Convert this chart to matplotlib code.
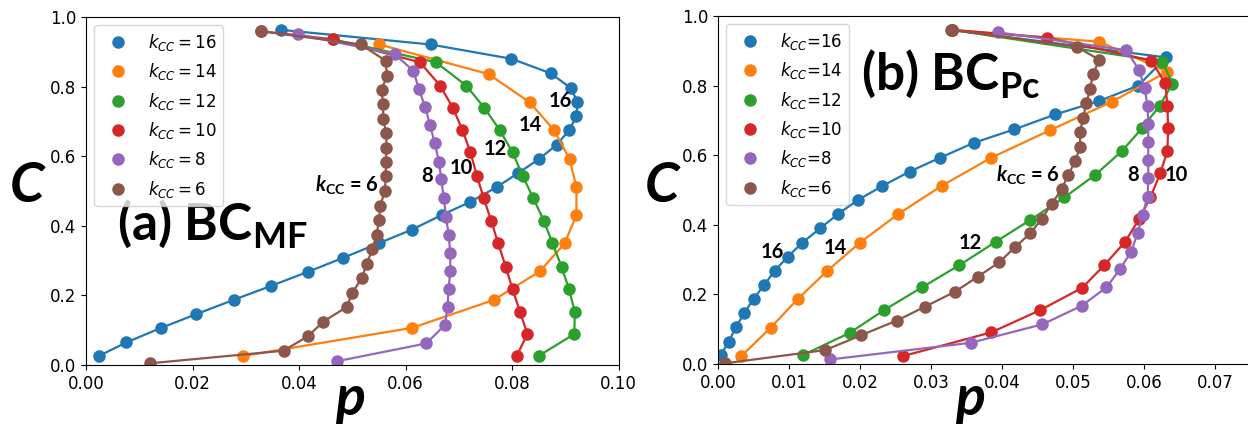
import matplotlib.pyplot as plt
from matplotlib.lines import Line2D

plt.rcParams['mathtext.rm'] = 'Lato:bold'
plt.rcParams['mathtext.it'] = 'Lato:italic:bold'
plt.rcParams['mathtext.bf'] = 'Lato:bold'

kcc = [16, 14, 12, 10, 8, 6]
colors = ['tab:blue', 'tab:orange', 'tab:green', 'tab:red', 'tab:purple', 'tab:brown']

# (a) mean-field betweenness
p_mf = [
    [0.0024, 0.0076, 0.0140, 0.0207, 0.0277, 0.0347, 0.0417, 0.0483, 0.0550, 0.0612, 0.0668, 0.0722,
     0.0771, 0.0812, 0.0851, 0.0884, 0.0907, 0.0921, 0.0923, 0.0911, 0.0873, 0.0799, 0.0647, 0.0367],
    [0.0295, 0.0613, 0.0766, 0.0853, 0.0899, 0.0921, 0.0921, 0.0908, 0.0879, 0.0833, 0.0756, 0.0551],
    [0.0851, 0.0917, 0.0918, 0.0907, 0.0893, 0.0876, 0.0860, 0.0840, 0.0820, 0.0801, 0.0777, 0.0748,
     0.0714, 0.0657, 0.0463],
    [0.0809, 0.0829, 0.0815, 0.0801, 0.0788, 0.0774, 0.0761, 0.0747, 0.0734, 0.0722, 0.0707, 0.0689,
     0.0665, 0.0627, 0.0463, 0.0329],
    [0.0472, 0.0639, 0.0674, 0.0679, 0.0681, 0.0684, 0.0684, 0.0681, 0.0676, 0.0672, 0.0667, 0.0663,
     0.0655, 0.0646, 0.0637, 0.0625, 0.0615, 0.0580, 0.0399],
    [0.0121, 0.0371, 0.0417, 0.0446, 0.0490, 0.0500, 0.0518, 0.0527, 0.0538, 0.0546, 0.0550, 0.0553,
     0.0561, 0.0563, 0.0563, 0.0564, 0.0564, 0.0558, 0.0558, 0.0555, 0.0565, 0.0563, 0.0516, 0.0329],
]
c_mf = [
    [0.026, 0.065, 0.106, 0.146, 0.187, 0.227, 0.268, 0.308, 0.350, 0.389, 0.431, 0.469,
     0.511, 0.552, 0.592, 0.633, 0.674, 0.715, 0.755, 0.795, 0.838, 0.880, 0.921, 0.963],
    [0.026, 0.107, 0.187, 0.270, 0.350, 0.431, 0.511, 0.592, 0.675, 0.755, 0.836, 0.921],
    [0.027, 0.089, 0.153, 0.218, 0.283, 0.350, 0.414, 0.479, 0.544, 0.611, 0.675, 0.739,
     0.803, 0.870, 0.936],
    [0.027, 0.089, 0.153, 0.218, 0.283, 0.350, 0.414, 0.479, 0.544, 0.611, 0.675, 0.739,
     0.803, 0.870, 0.936, 0.959],
    [0.011, 0.062, 0.115, 0.168, 0.218, 0.271, 0.323, 0.375, 0.426, 0.479, 0.534, 0.584,
     0.637, 0.690, 0.742, 0.793, 0.845, 0.893, 0.950],
    [0.005, 0.041, 0.083, 0.125, 0.167, 0.208, 0.249, 0.291, 0.333, 0.375, 0.417, 0.458,
     0.500, 0.542, 0.584, 0.625, 0.666, 0.707, 0.749, 0.790, 0.831, 0.874, 0.921, 0.959],
]

# (b) betweenness from percolation
p_pc = [
    [0.0004, 0.0015, 0.0025, 0.0037, 0.0050, 0.0065, 0.0080, 0.0098, 0.0119, 0.0144, 0.0169,
     0.0197, 0.0231, 0.0270, 0.0313, 0.0361, 0.0417, 0.0475, 0.0537, 0.0592, 0.0631, 0.0330],
    [0.0033, 0.0074, 0.0112, 0.0154, 0.0200, 0.0254, 0.0315, 0.0385, 0.0468, 0.0555, 0.0633,
     0.0537, 0.0330],
    [0.0120, 0.0186, 0.0234, 0.0287, 0.0340, 0.0391, 0.0440, 0.0488, 0.0531, 0.0569, 0.0597,
     0.0622, 0.0640, 0.0626, 0.0330],
    [0.0261, 0.0385, 0.0454, 0.0513, 0.0544, 0.0573, 0.0593, 0.0609, 0.0623, 0.0633, 0.0634,
     0.0633, 0.0630, 0.0610, 0.0463, 0.0330],
    [0.0158, 0.0356, 0.0457, 0.0512, 0.0547, 0.0566, 0.0582, 0.0591, 0.0598, 0.0605, 0.0606,
     0.0606, 0.0606, 0.0606, 0.0605, 0.0601, 0.0593, 0.0575, 0.0395],
    [0.0010, 0.0151, 0.0202, 0.0252, 0.0292, 0.0334, 0.0366, 0.0396, 0.0418, 0.0440, 0.0456,
     0.0470, 0.0484, 0.0493, 0.0503, 0.0510, 0.0510, 0.0514, 0.0519, 0.0524, 0.0528, 0.0537,
     0.0505, 0.0328],
]
c_pc = [
    [0.026, 0.064, 0.105, 0.146, 0.187, 0.227, 0.268, 0.308, 0.349, 0.390, 0.431,
     0.471, 0.511, 0.553, 0.593, 0.636, 0.674, 0.717, 0.756, 0.800, 0.881, 0.960],
    [0.023, 0.104, 0.186, 0.268, 0.349, 0.431, 0.512, 0.593, 0.672, 0.754, 0.840,
     0.926, 0.960],
    [0.026, 0.090, 0.155, 0.220, 0.284, 0.351, 0.414, 0.479, 0.543, 0.612, 0.677,
     0.742, 0.805, 0.869, 0.960],
    [0.023, 0.091, 0.155, 0.219, 0.284, 0.350, 0.416, 0.479, 0.548, 0.613, 0.677,
     0.741, 0.807, 0.872, 0.938, 0.960],
    [0.013, 0.061, 0.114, 0.167, 0.220, 0.272, 0.323, 0.376, 0.428, 0.481, 0.534,
     0.586, 0.639, 0.690, 0.741, 0.792, 0.845, 0.902, 0.953],
    [0.002, 0.040, 0.083, 0.125, 0.165, 0.208, 0.251, 0.292, 0.335, 0.376, 0.417,
     0.460, 0.502, 0.543, 0.582, 0.624, 0.666, 0.706, 0.749, 0.790, 0.832, 0.874,
     0.912, 0.960],
]

# curve labels: (text, p, C)
labels_mf = [('16', 0.0890, 0.759), ('14', 0.0834, 0.690), ('12', 0.0768, 0.621),
             ('10', 0.0704, 0.567), ('8', 0.0641, 0.544), (r'$k_{\mathrm{CC}}$ = 6', 0.0490, 0.517)]
labels_pc = [('16', 0.0076, 0.323), ('14', 0.0165, 0.332), ('12', 0.0355, 0.349),
             (r'$k_{\mathrm{CC}}$ = 6', 0.0437, 0.543), ('8', 0.0585, 0.543), ('10', 0.0646, 0.543)]

W, H = 1248, 426
fig = plt.figure(figsize=(W / 100, H / 100), dpi=100)
ax1 = fig.add_axes([86 / W, 1 - 365 / H, 532.5 / W, 348 / H])
ax2 = fig.add_axes([718 / W, 1 - 364 / H, 532.5 / W, 348 / H])


def draw_panel(ax, ps, cs, labels, legend_labels, xmax, xticks):
    for p, c, col in zip(ps, cs, colors):
        ax.plot(p, c, '-o', color=col, lw=1.6, markersize=8)
    for s, x, y in labels:
        ax.text(x, y, s, fontsize=14.5, fontweight='bold', family='Lato',
                math_fontfamily='custom', ha='center', va='center')
    ax.set_xlim(0, xmax)
    ax.set_ylim(0, 1.0)
    ax.set_xticks(xticks)
    ax.set_yticks([0.0, 0.2, 0.4, 0.6, 0.8, 1.0])
    ax.tick_params(labelsize=12)
    ax.xaxis.set_major_formatter('{x:.2f}')
    handles = [Line2D([], [], ls='none', marker='o', color=col, markersize=8) for col in colors]
    ax.legend(handles, legend_labels, loc='upper left', fontsize=12)


draw_panel(ax1, p_mf, c_mf, labels_mf, [r'$k_{CC} = %d$' % k for k in kcc],
           0.10, [0.00, 0.02, 0.04, 0.06, 0.08, 0.10])
draw_panel(ax2, p_pc, c_pc, labels_pc, [r'$k_{CC}$=%d' % k for k in kcc],
           0.075, [0.00, 0.01, 0.02, 0.03, 0.04, 0.05, 0.06, 0.07])

ax1.text(0.0058, 0.359, r'(a) BC$_{\mathrm{MF}}$', fontsize=37, fontweight='bold', family='Lato',
         math_fontfamily='custom', ha='left', va='baseline')
ax2.text(0.0202, 0.787, r'(b) BC$_{\mathrm{Pc}}$', fontsize=37, fontweight='bold', family='Lato',
         math_fontfamily='custom', ha='left', va='baseline')

# axis letters
for x in (27, 662):
    fig.text(x / W, 1 - 186 / H, 'C', fontsize=40, fontweight='bold', fontstyle='italic',
             family='Lato', ha='center', va='center')
for x in (350, 970):
    fig.text(x / W, 1 - 415 / H, 'p', fontsize=40, fontweight='bold', fontstyle='italic',
             family='Lato', ha='center', va='baseline')

fig.savefig('out.png', dpi=100)
